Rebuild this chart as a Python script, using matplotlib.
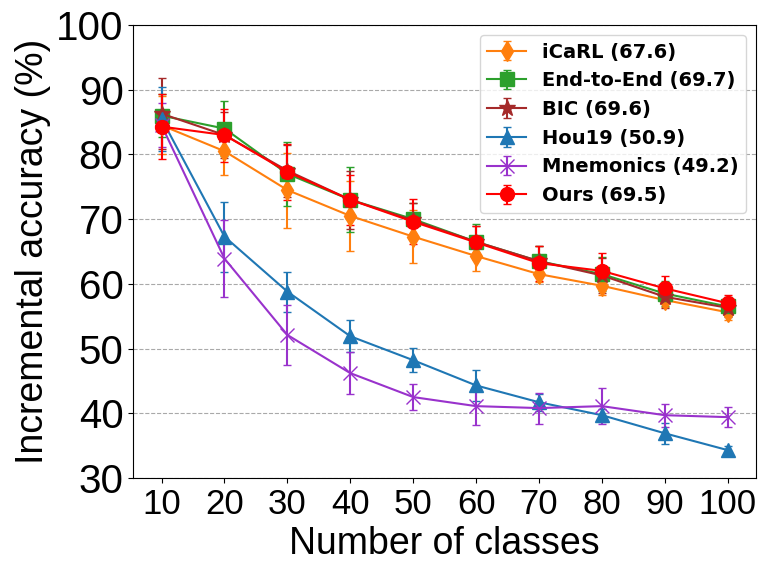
import matplotlib
matplotlib.use('Agg')
import matplotlib.pyplot as plt

classes = [10, 20, 30, 40, 50, 60, 70, 80, 90, 100]

icarl = [84.5, 80.5, 74.5, 70.5, 67.3, 64.3, 61.5, 59.7, 57.5, 55.6]
icarl_err = [4.5, 3.7, 5.8, 5.4, 4.1, 2.3, 1.2, 1.4, 1.1, 1.2]

e2e = [86.0, 84.0, 77.0, 73.0, 70.0, 66.5, 63.5, 61.5, 58.5, 56.5]
e2e_err = [3.3, 4.3, 5.0, 5.0, 2.5, 2.7, 2.4, 2.6, 2.0, 1.4]

bic = [86.3, 83.0, 77.5, 73.0, 69.8, 66.5, 63.5, 61.3, 58.0, 56.3]
bic_err = [5.5, 3.5, 4.0, 4.5, 2.7, 2.5, 2.4, 2.7, 1.8, 1.5]

hou = [85.5, 67.3, 58.8, 51.9, 48.2, 44.3, 41.7, 39.7, 36.9, 34.3]
hou_err = [5.0, 5.4, 3.1, 2.5, 1.9, 2.4, 1.3, 1.0, 1.6, 0.7]

mnem = [84.5, 63.9, 52.1, 46.2, 42.5, 41.1, 40.8, 41.1, 39.7, 39.4]
mnem_err = [3.4, 6.0, 4.6, 3.2, 2.0, 2.9, 2.4, 2.8, 1.8, 1.5]

ours = [84.3, 83.0, 77.3, 73.0, 69.6, 66.4, 63.2, 62.0, 59.3, 57.0]
ours_err = [5.0, 4.1, 4.3, 3.9, 3.5, 2.6, 2.7, 2.7, 1.9, 1.2]

names = ['iCaRL (67.6)', 'End-to-End (69.7)', 'BIC (69.6)',
         'Hou19 (50.9)', 'Mnemonics (49.2)', 'Ours (69.5)']
series = [icarl, e2e, bic, hou, mnem, ours]
errors = [icarl_err, e2e_err, bic_err, hou_err, mnem_err, ours_err]
colors = ['tab:orange', 'tab:green', 'brown', 'tab:blue', 'darkorchid', 'red']
markers = ['d', 's', '*', '^', 'x', 'o']

fig = plt.figure(figsize=(7.66, 5.69), dpi=100)
ax = fig.add_axes([0.174, 0.16, 0.813, 0.796])

for name, y, e, c, m in zip(names, series, errors, colors, markers):
    ms = 12 if m == '*' else 10
    ax.errorbar(classes, y, yerr=e, label=name, color=c, marker=m,
                markersize=ms, linewidth=1.5, capsize=3, elinewidth=1.5)

ax.set_ylim(30, 100)
ax.set_yticks(range(30, 101, 10))
ax.set_xticks(classes)
ax.yaxis.grid(True, linestyle='--', color='darkgray', linewidth=0.8)
ax.set_axisbelow(True)
for t in ax.get_yticklabels():
    t.set_fontfamily('Liberation Sans')
    t.set_fontsize(29)
for t in ax.get_xticklabels():
    t.set_fontfamily('Liberation Sans')
    t.set_fontsize(25)
ax.set_xlabel('Number of classes', fontsize=27, family='Liberation Sans')
ax.set_ylabel('Incremental accuracy (%)', fontsize=27, family='Liberation Sans')
ax.legend(loc='upper right', prop={'weight': 'bold', 'size': 14, 'family': 'DejaVu Sans'})

plt.savefig('out.png', dpi=100)
